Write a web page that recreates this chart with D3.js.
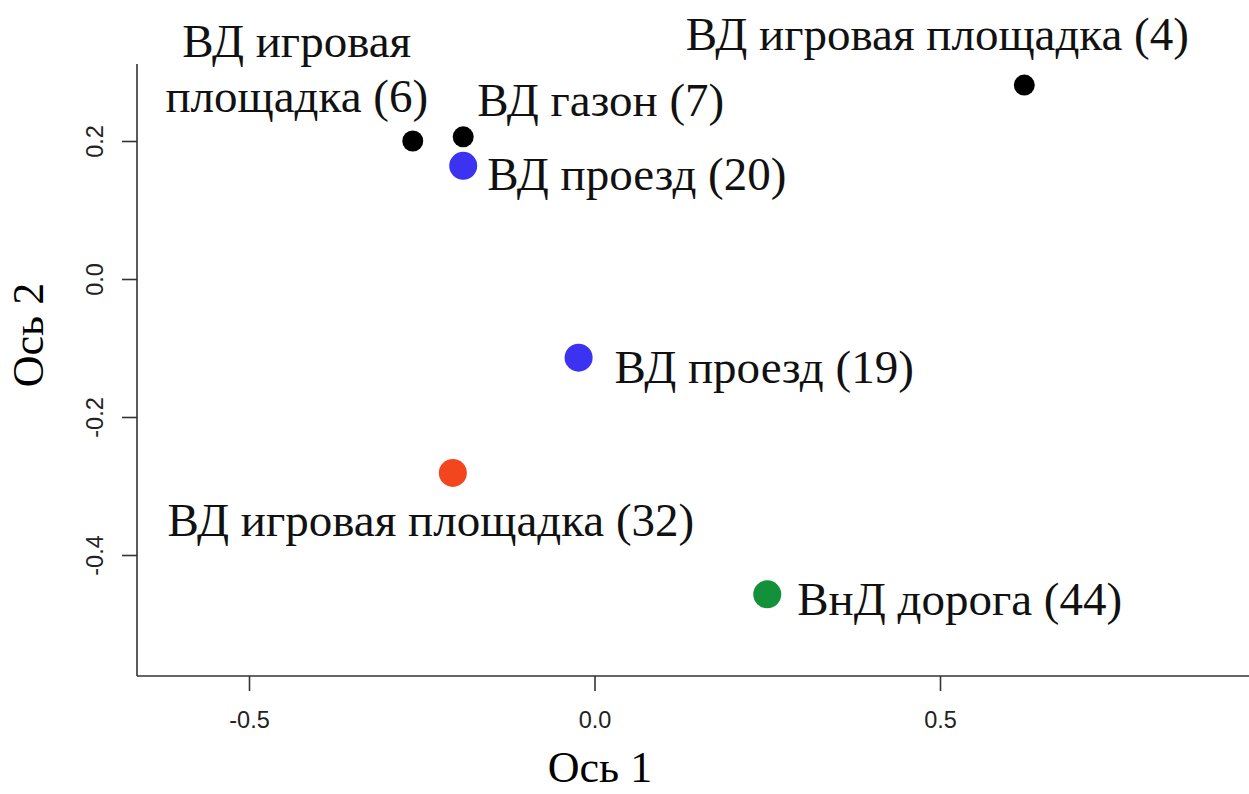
<!DOCTYPE html>
<html><head><meta charset="utf-8">
<script src="https://cdn.jsdelivr.net/npm/d3@7"></script>
<style>html,body{margin:0;padding:0;background:#fff;}</style>
</head><body>
<svg id="chart" width="1249" height="794"></svg>
<script>
// Data
const labels = ["ВД игровая площадка (6)", "ВД газон (7)", "ВД игровая площадка (4)", "ВД проезд (20)", "ВД проезд (19)", "ВД игровая площадка (32)", "ВнД дорога (44)"];
const axis1 = [-0.263, -0.190, 0.622, -0.190, -0.023, -0.205, 0.250];
const axis2 = [0.200, 0.206, 0.281, 0.164, -0.114, -0.281, -0.457];
const groups = ["black", "black", "black", "blue", "blue", "red", "green"];
const xTicks = [-0.5, 0.0, 0.5];
const yTicks = [-0.4, -0.2, 0.0, 0.2];

// Styles / layout (not data)
const colorMap = {black: "#000000", blue: "#3b32f2", red: "#f4461e", green: "#12913a"};
const radiusMap = {black: 10.5, blue: 14, red: 14, green: 14};
const labelLayout = [
  {dx: -116, dy: -84, anchor: "middle", lines: ["ВД игровая", "площадка (6)"]},
  {dx: 14, dy: -21, anchor: "start"},
  {dx: -87, dy: -35, anchor: "middle"},
  {dx: 24, dy: 24, anchor: "start"},
  {dx: 36, dy: 25, anchor: "start"},
  {dx: -22, dy: 63, anchor: "middle"},
  {dx: 30, dy: 21, anchor: "start"}
];

const svg = d3.select("#chart");
const x = d3.scaleLinear().domain([-0.5, 0.5]).range([249, 940]);
const y = d3.scaleLinear().domain([-0.4, 0.2]).range([555, 141]);

const pLeft = 137, pBottom = 676, pTop = 64, pRight = 1249;

const g = svg.append("g");
g.append("line").attr("x1", pLeft).attr("x2", pLeft).attr("y1", pTop).attr("y2", pBottom)
  .attr("stroke", "#333").attr("stroke-width", 1.6);
g.append("line").attr("x1", pLeft).attr("x2", pRight).attr("y1", pBottom).attr("y2", pBottom)
  .attr("stroke", "#333").attr("stroke-width", 1.6);

const fmt = d => d === 0 ? "0.0" : d3.format(".1f")(d).replace("−", "-");

const xAxis = d3.axisBottom(x).tickValues(xTicks).tickSize(15).tickPadding(20).tickFormat(fmt);
const gx = svg.append("g").attr("transform", `translate(0,${pBottom})`).call(xAxis);
gx.select(".domain").remove();
gx.selectAll("line").attr("stroke", "#333").attr("stroke-width", 1.6);
gx.selectAll("text").attr("font-family", "'Liberation Sans', Arial, sans-serif")
  .attr("font-size", 23.5).attr("fill", "#222");

const yAxis = d3.axisLeft(y).tickValues(yTicks).tickSize(15).tickPadding(0).tickFormat(fmt);
const gy = svg.append("g").attr("transform", `translate(${pLeft},0)`).call(yAxis);
gy.select(".domain").remove();
gy.selectAll("line").attr("stroke", "#333").attr("stroke-width", 1.6);
gy.selectAll("text")
  .attr("font-family", "'Liberation Sans', Arial, sans-serif")
  .attr("font-size", 23.5).attr("fill", "#222")
  .attr("x", null).attr("dy", null)
  .attr("text-anchor", "middle")
  .attr("transform", "translate(-34,0) rotate(-90)")
  .attr("y", 0);

svg.append("text").attr("x", 600).attr("y", 782).attr("text-anchor", "middle")
  .attr("font-family", "'Liberation Serif', 'Times New Roman', serif").attr("font-size", 44)
  .text("Ось 1");
svg.append("text").attr("transform", "translate(43,335) rotate(-90)").attr("text-anchor", "middle")
  .attr("font-family", "'Liberation Serif', 'Times New Roman', serif").attr("font-size", 44)
  .text("Ось 2");

const data = labels.map((l, i) => ({label: l, a1: axis1[i], a2: axis2[i], grp: groups[i], lay: labelLayout[i]}));
svg.append("g").selectAll("circle").data(data).join("circle")
  .attr("cx", d => x(d.a1)).attr("cy", d => y(d.a2))
  .attr("r", d => radiusMap[d.grp]).attr("fill", d => colorMap[d.grp]);

const lg = svg.append("g").attr("font-family", "'Liberation Serif', 'Times New Roman', serif")
  .attr("font-size", 47).attr("fill", "#111");
data.forEach(d => {
  const lines = d.lay.lines || [d.label];
  const t = lg.append("text").attr("text-anchor", d.lay.anchor);
  lines.forEach((ln, k) => {
    t.append("tspan").attr("x", x(d.a1) + d.lay.dx).attr("y", y(d.a2) + d.lay.dy + k * 55).text(ln);
  });
});
</script>
</body></html>
